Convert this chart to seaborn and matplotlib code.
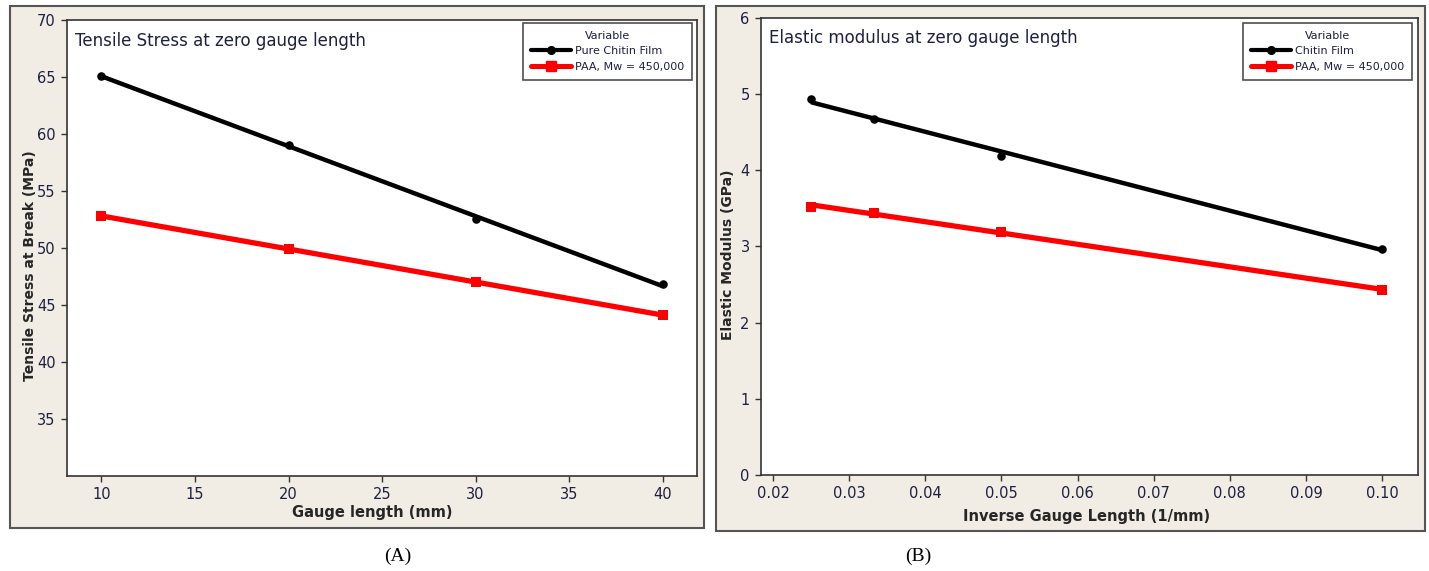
import numpy as np
import pandas as pd
import matplotlib
matplotlib.use("Agg")
import matplotlib.pyplot as plt
import seaborn as sns
from matplotlib.patches import Rectangle
from matplotlib.lines import Line2D

# ---- data ----
gauge_length = [10, 20, 30, 40]
chitin_stress = [65.1, 59.0, 52.5, 46.8]
paa_stress = [52.8, 49.9, 47.0, 44.1]

inverse_gauge = [0.025, 0.0333, 0.05, 0.10]
chitin_modulus = [4.93, 4.67, 4.19, 2.97]
paa_modulus = [3.52, 3.44, 3.19, 2.43]

series_a = ["Pure Chitin Film", "PAA, Mw = 450,000"]
series_b = ["Chitin Film", "PAA, Mw = 450,000"]
xticks_a = [10, 15, 20, 25, 30, 35, 40]
yticks_a = [35, 40, 45, 50, 55, 60, 65, 70]
xticks_b = [0.02, 0.03, 0.04, 0.05, 0.06, 0.07, 0.08, 0.09, 0.10]
yticks_b = [0, 1, 2, 3, 4, 5, 6]

sns.set_theme(style="white")
plt.rcParams['font.family'] = ['DejaVu Sans']

W, H = 1429, 571
fig = plt.figure(figsize=(W / 100, H / 100), dpi=100)
fig.patch.set_facecolor("white")

BEIGE = "#F1EDE4"
FRAME = "#555555"
TXT = "#1E2040"

def fx(px):
    return px / W

def fy(py):
    return 1 - py / H

# frames
for (x0, y0, x1, y1) in [(10, 6, 704, 528), (716, 6, 1425, 531)]:
    fig.add_artist(Rectangle((fx(x0), fy(y1)), fx(x1 - x0), (y1 - y0) / H,
                             transform=fig.transFigure, facecolor=BEIGE,
                             edgecolor=FRAME, lw=1.5, zorder=0))

axA = fig.add_axes([fx(66.7), fy(475.7), fx(630), 455.7 / H])
axB = fig.add_axes([fx(760.7), fy(475.3), fx(657), 457.8 / H])

BLACK = "#000000"
RED = "#FF0000"

def draw(ax, x, ys, names):
    df1 = pd.DataFrame({"x": x, "y": ys[0]})
    df2 = pd.DataFrame({"x": x, "y": ys[1]})
    sns.regplot(data=df2, x="x", y="y", ax=ax, ci=None, scatter=False,
                line_kws=dict(color=RED, lw=3.8, solid_capstyle="butt"))
    sns.regplot(data=df1, x="x", y="y", ax=ax, ci=None, scatter=False,
                line_kws=dict(color=BLACK, lw=3.2, solid_capstyle="butt"))
    sns.scatterplot(data=df2, x="x", y="y", ax=ax, marker="s", s=55,
                    color=RED, edgecolor=RED, linewidth=0, zorder=5)
    sns.scatterplot(data=df1, x="x", y="y", ax=ax, marker="o", s=38,
                    color=BLACK, edgecolor=BLACK, linewidth=0, zorder=6)
    handles = [Line2D([], [], color=BLACK, lw=3.0, marker="o", markersize=5.5),
               Line2D([], [], color=RED, lw=3.6, marker="s", markersize=6.5)]
    return handles

hA = draw(axA, gauge_length, [chitin_stress, paa_stress], series_a)
hB = draw(axB, inverse_gauge, [chitin_modulus, paa_modulus], series_b)

axA.set_xlim(8.14, 41.82)
axA.set_ylim(30, 70)
axA.set_xticks(xticks_a)
axA.set_xticklabels([str(v) for v in xticks_a])
axA.set_yticks(yticks_a)
axA.set_yticklabels([str(v) for v in yticks_a])

axB.set_xlim(0.01838, 0.10469)
axB.set_ylim(0, 6)
axB.set_xticks(xticks_b)
axB.set_xticklabels([f"{v:.2f}" for v in xticks_b])
axB.set_yticks(yticks_b)
axB.set_yticklabels([str(v) for v in yticks_b])

for ax in (axA, axB):
    ax.set_facecolor("white")
    for s in ax.spines.values():
        s.set_visible(True)
        s.set_color("#333333")
        s.set_linewidth(1.2)
    ax.tick_params(axis="both", which="major", direction="out", length=4,
                   width=1, color="#333333", labelsize=10.5, labelcolor=TXT,
                   bottom=True, left=True, pad=4)
    ax.set_xlabel("")
    ax.set_ylabel("")

axA.set_xlabel("Gauge length (mm)", fontsize=10.5, fontweight="bold")
axA.set_ylabel("Tensile Stress at Break (MPa)", fontsize=10, fontweight="bold")
axB.set_xlabel("Inverse Gauge Length (1/mm)", fontsize=10.5, fontweight="bold")
axB.set_ylabel("Elastic Modulus (GPa)", fontsize=10, fontweight="bold")
axA.xaxis.set_label_coords(0.4846, -0.0797)
axA.xaxis.label.set_va("center")
axB.xaxis.set_label_coords(0.4967, -0.091)
axB.xaxis.label.set_va("center")
axA.yaxis.set_label_coords(-0.058, 0.462)
axA.yaxis.label.set_va("center")
axB.yaxis.set_label_coords(-0.0498, 0.481)
axB.yaxis.label.set_va("center")

axA.text(0.013, 0.955, "Tensile Stress at zero gauge length", transform=axA.transAxes,
         fontsize=12, color=TXT, ha="left", va="center")
axB.text(0.013, 0.955, "Elastic modulus at zero gauge length", transform=axB.transAxes,
         fontsize=12, color=TXT, ha="left", va="center")

for ax, h, names, anchor in [(axA, hA, series_a, (0.9925, 0.9934)),
                             (axB, hB, series_b, (0.9913, 0.988))]:
    leg = ax.legend(h, names, title="Variable", loc="upper right",
                    bbox_to_anchor=anchor, borderaxespad=0, fontsize=8,
                    title_fontsize=8, frameon=True, fancybox=False,
                    handlelength=3.6, handletextpad=0.4, borderpad=0.7,
                    labelspacing=0.5, edgecolor="#222222")
    leg.get_frame().set_linewidth(1.2)
    for t in leg.get_texts():
        t.set_color(TXT)
    leg.get_title().set_color(TXT)

fig.text(fx(398), fy(556), "(A)", fontsize=14, family="Liberation Serif",
         ha="center", va="center", color="black")
fig.text(fx(918), fy(556), "(B)", fontsize=14, family="Liberation Serif",
         ha="center", va="center", color="black")

fig.savefig("out.png", dpi=100, facecolor="white")
